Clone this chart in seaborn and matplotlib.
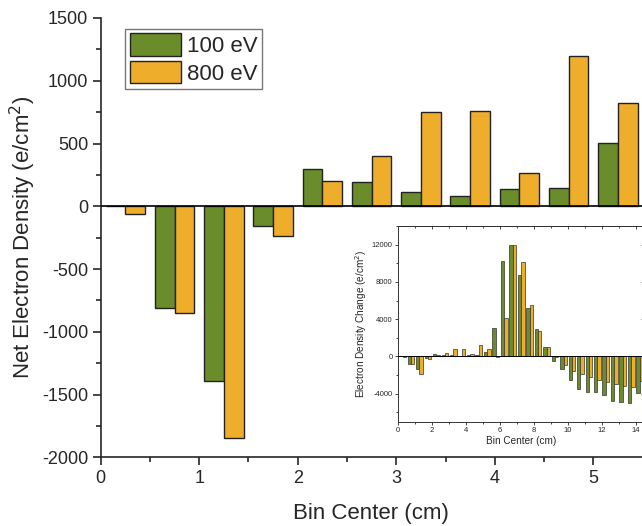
import matplotlib
matplotlib.use('Agg')
from matplotlib import pyplot as plt
from matplotlib.ticker import MultipleLocator
from matplotlib.patches import Patch
import seaborn as sns
import pandas as pd

# bin centres (cm) and net electron density (e/cm^2) per energy
bin_centers = [0.25, 0.75, 1.25, 1.75, 2.25, 2.75, 3.25, 3.75, 4.25, 4.75,
               5.25, 5.75, 6.25, 6.75, 7.25, 7.75, 8.25, 8.75, 9.25, 9.75,
               10.25, 10.75, 11.25, 11.75, 12.25, 12.75, 13.25, 13.75, 14.25]
density_100ev = [0, -810, -1390, -160, 300, 190, 110, 85, 140, 145,
                 505, 3100, 10200, 12000, 8700, 5250, 2930, 1035, -500, -1360,
                 -2540, -3500, -3790, -3860, -4140, -4750, -4890, -5000, -3900]
density_800ev = [-60, -850, -1850, -235, 205, 400, 750, 760, 265, 1200,
                 825, -50, 4180, 12000, 10180, 5500, 2680, 1000, -40, -940,
                 -1570, -1930, -2180, -2500, -2790, -2960, -3210, -3300, -2680]
series_names = ['100 eV', '800 eV']
series_colors = ['#6a8c2a', '#eeae2c']

df = pd.DataFrame({
    'center': bin_centers * 2,
    'density': density_100ev + density_800ev,
    'energy': [series_names[0]] * len(bin_centers) + [series_names[1]] * len(bin_centers),
})

sns.set_style('ticks')
plt.rcParams['font.family'] = ['Liberation Sans', 'DejaVu Sans']
plt.rcParams['axes.unicode_minus'] = False

fig = plt.figure(figsize=(6.42, 5.26), dpi=100)

# main plot
ax = fig.add_axes([0.1569, 0.1306, 0.8424, 0.8352])
sns.barplot(data=df, x='center', y='density', hue='energy',
            palette=series_colors, saturation=1, native_scale=True, width=0.8,
            errorbar=None, edgecolor='#222222', linewidth=1.0, ax=ax)
ax.axhline(0, color='black', lw=1.2, zorder=5)
ax.set_xlim(0, 5.49)
ax.set_ylim(-2000, 1500)
ax.xaxis.set_major_locator(MultipleLocator(1))
ax.xaxis.set_minor_locator(MultipleLocator(0.5))
ax.yaxis.set_major_locator(MultipleLocator(500))
ax.yaxis.set_minor_locator(MultipleLocator(250))
ax.tick_params(which='major', direction='out', length=6, width=1.2,
               labelsize=13, pad=3)
ax.tick_params(which='minor', direction='out', length=3.5, width=1.2)
for s in ['top', 'right']:
    ax.spines[s].set_visible(False)
for s in ['left', 'bottom']:
    ax.spines[s].set_linewidth(1.2)
ax.set_xlabel('Bin Center (cm)', fontsize=16, labelpad=12)
ax.set_ylabel('Net Electron Density (e/cm$^2$)', fontsize=16, labelpad=3)

handles = [Patch(facecolor=c, edgecolor='#222222', lw=1.0) for c in series_colors]
ax.legend(handles, series_names, loc='upper left', bbox_to_anchor=(0.045, 0.975),
          fontsize=16, handlelength=2.3, handleheight=1.2, labelspacing=0.15,
          handletextpad=0.3, borderpad=0.2, borderaxespad=0, fancybox=False,
          edgecolor='#777777', framealpha=1)

# inset with full range
ins = fig.add_axes([0.6204, 0.1983, 0.3827, 0.372])
sns.barplot(data=df, x='center', y='density', hue='energy',
            palette=series_colors, saturation=1, native_scale=True, width=0.8,
            errorbar=None, edgecolor='#333333', linewidth=0.5, ax=ins,
            legend=False)
ins.axhline(0, color='black', lw=0.7, zorder=5)
ins.set_xlim(0, 14.5)
ins.set_ylim(-7000, 14000)
ins.xaxis.set_major_locator(MultipleLocator(2))
ins.xaxis.set_minor_locator(MultipleLocator(1))
ins.yaxis.set_major_locator(MultipleLocator(4000))
ins.yaxis.set_minor_locator(MultipleLocator(2000))
ins.tick_params(which='both', direction='out', width=0.6, labelsize=5.5, pad=1.5)
ins.tick_params(which='major', length=2.5)
ins.tick_params(which='minor', length=1.5)
for s in ins.spines.values():
    s.set_linewidth(0.7)
    s.set_color('#333333')
ins.set_xlabel('Bin Center (cm)', fontsize=7.2, labelpad=1)
ins.set_ylabel('Electron Density Change (e/cm$^2$)', fontsize=7.2, labelpad=2)

top = ins.secondary_xaxis('top')
top.xaxis.set_major_locator(MultipleLocator(2))
top.xaxis.set_minor_locator(MultipleLocator(1))
top.tick_params(which='both', direction='in', width=0.6, labeltop=False)
top.tick_params(which='major', length=2.5)
top.tick_params(which='minor', length=1.5)
top.spines['top'].set_linewidth(0.7)

right = ins.secondary_yaxis('right')
right.yaxis.set_major_locator(MultipleLocator(4000))
right.yaxis.set_minor_locator(MultipleLocator(2000))
right.tick_params(which='both', direction='in', width=0.6, labelright=False)
right.tick_params(which='major', length=2.5)
right.tick_params(which='minor', length=1.5)

fig.savefig('out.png', dpi=100)
plt.close(fig)
